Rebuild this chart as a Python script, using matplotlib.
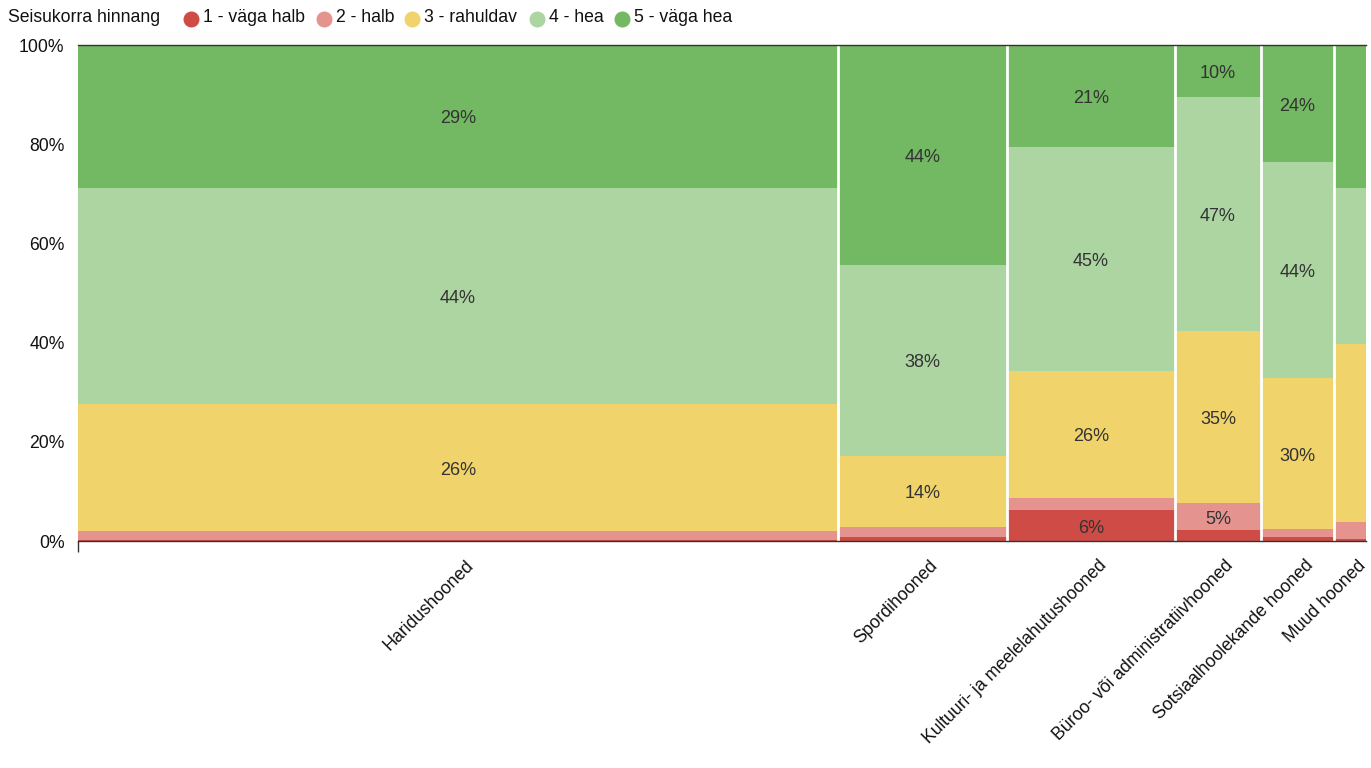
import matplotlib
matplotlib.use("Agg")
import matplotlib.pyplot as plt
import matplotlib.transforms as mtransforms
from matplotlib.lines import Line2D
import numpy as np

plt.rcParams['font.family'] = ['Liberation Sans', 'DejaVu Sans']

categories = ["Haridushooned", "Spordihooned", "Kultuuri- ja meelelahutushooned",
              "Büroo- või administratiivhooned", "Sotsiaalhoolekande hooned", "Muud hooned"]
widths = [760, 169, 168, 86, 73, 32]
series_names = ["1 - väga halb", "2 - halb", "3 - rahuldav", "4 - hea", "5 - väga hea"]
s1 = [0.2, 0.9, 6.2, 2.2, 0.8, 0.5]
s2 = [1.8, 1.9, 2.5, 5.4, 1.6, 3.3]
s3 = [25.6, 14.4, 25.6, 34.7, 30.4, 35.9]
s4 = [43.6, 38.4, 45.1, 47.3, 43.6, 31.5]
s5 = [28.8, 44.4, 20.6, 10.4, 23.6, 28.8]
colors = ["#cf4b45", "#e4938f", "#f0d36a", "#acd5a1", "#73b862"]

series = [s1, s2, s3, s4, s5]

FS = 12.7
W, H = 1371, 768
fig = plt.figure(figsize=(W / 100, H / 100), dpi=100)
ax = fig.add_axes([78 / W, 1 - 541 / H, (1366 - 78) / W, (541 - 45) / H])

widths_a = np.array(widths, dtype=float)
lefts = np.concatenate([[0], np.cumsum(widths_a)[:-1]])
total = widths_a.sum()
centers = lefts + widths_a / 2

bottom = np.zeros(len(categories))
for name, vals, col in zip(series_names, series, colors):
    vals = np.array(vals, dtype=float)
    ax.bar(lefts, vals, width=widths_a, bottom=bottom, align='edge', color=col,
           edgecolor='none', linewidth=0, zorder=2)
    for i, v in enumerate(vals):
        if v >= 4.5 and widths_a[i] >= 50:
            ax.text(centers[i], bottom[i] + v / 2 - 0.5, f"{round(v):d}%", ha='center', va='center',
                    fontsize=FS + 0.3, color='#333333', zorder=4)
    bottom += vals

for b in np.cumsum(widths_a)[:-1]:
    ax.axvline(b, color='white', lw=2, zorder=3)

ax.set_xlim(0, total)
ax.set_ylim(0, 100)
ax.set_yticks([0, 20, 40, 60, 80, 100])
ax.set_yticklabels([f"{t}%" for t in [0, 20, 40, 60, 80, 100]], fontsize=FS, color='#111111')
ax.tick_params(axis='y', length=0, pad=14)
for lbl in ax.get_yticklabels():
    lbl.set_transform(lbl.get_transform() + mtransforms.ScaledTranslation(6 / 100, 0, fig.dpi_scale_trans))

ax.set_xticks(centers)
ax.set_xticklabels(categories, rotation=45, ha='right', va='center', rotation_mode='anchor',
                   fontsize=FS, color='#111111')
ax.tick_params(axis='x', which='major', length=0, pad=16)
ax.set_xticks([0], minor=True)
ax.tick_params(axis='x', which='minor', length=8, width=1, color='#333333')
offset = mtransforms.ScaledTranslation(13 / 100, 0, fig.dpi_scale_trans)
for lbl in ax.get_xticklabels():
    lbl.set_transform(lbl.get_transform() + offset)

for s in ['left', 'right']:
    ax.spines[s].set_visible(False)
ax.spines['top'].set_color('#333333')
ax.spines['top'].set_linewidth(1)
ax.spines['bottom'].set_color('#333333')
ax.spines['bottom'].set_linewidth(1)
ax.spines['top'].set_zorder(5)
ax.spines['bottom'].set_zorder(5)

# legend
ly = 1 - 17.5 / H
fig.text(8 / W, ly, "Seisukorra hinnang", ha='left', va='center', fontsize=FS, color='#111111')
marker_x = [191, 324, 412, 537, 622]
for mx, name, col in zip(marker_x, series_names, colors):
    fig.add_artist(Line2D([mx / W], [ly - 1 / H], marker='o', markersize=10.5, color=col,
                          linestyle='none', transform=fig.transFigure))
    fig.text((mx + 12) / W, ly, name, ha='left', va='center', fontsize=FS, color='#111111')

fig.savefig("out.png", dpi=100)
